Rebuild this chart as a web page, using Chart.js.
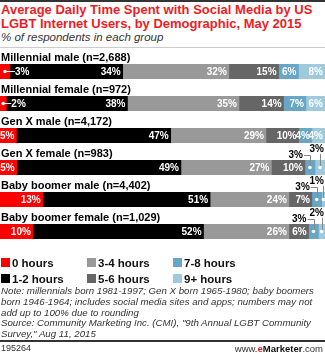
<!DOCTYPE html>
<html>
<head>
<meta charset="utf-8">
<script src="https://cdn.jsdelivr.net/npm/chart.js@4.4.0/dist/chart.umd.min.js"></script>
<style>
    body { margin: 0; width: 325px; height: 354px; overflow: hidden; background: #fff; position: relative;
           font-family: "Liberation Sans", Arial, sans-serif; }
    #topRule { position: absolute; left: 0; top: 0; width: 325px; height: 2px; background: #333; }
    #title { position: absolute; left: 1px; top: 3px; font-weight: bold; font-size: 13px; line-height: 14px; color: #ed1c24; white-space: nowrap; }
    #subtitle { position: absolute; left: 1px; top: 31px; font-style: italic; font-size: 11.5px; color: #333; }
    #sep { position: absolute; left: 0; top: 47px; width: 325px; height: 1px; background: #ccc; }
    .row { position: absolute; left: 0; width: 325px; height: 40px; }
    #legend { position: absolute; left: 0; top: 256px; width: 325px; }
    .item { position: absolute; font-weight: bold; font-size: 11.5px; line-height: 14px; color: #111; padding-left: 12px; white-space: nowrap; }
    .item span { position: absolute; left: 1px; top: 2px; width: 9px; height: 9px; }
    #note { position: absolute; left: 1px; top: 286px; font-style: italic; font-size: 9.7px; line-height: 10.8px; color: #333; white-space: nowrap; }
    #bottomRule { position: absolute; left: 0; top: 340px; width: 325px; height: 2px; background: #333; }
    #chartId { position: absolute; left: 1px; top: 343px; font-size: 9px; color: #333; }
    #site { position: absolute; right: 2px; top: 343px; font-size: 9.5px; color: #333; }
    #site b { color: #111; }
    #site .e { color: #ed1c24; }
</style>
</head>
<body>
<div id="topRule"></div>
<div id="title">Average Daily Time Spent with Social Media by US<br>LGBT Internet Users, by Demographic, May 2015</div>
<div id="subtitle">% of respondents in each group</div>
<div id="sep"></div>
<div id="rows"></div>
<div id="legend"></div>
<div id="note">Note: millennials born 1981-1997; Gen X born 1965-1980; baby boomers<br>born 1946-1964; includes social media sites and apps; numbers may not<br>add up to 100% due to rounding<br>Source: Community Marketing Inc. (CMI), "9th Annual LGBT Community<br>Survey," Aug 11, 2015</div>
<div id="bottomRule"></div>
<div id="chartId">195264</div>
<div id="site">www.<b class="e">e</b><b>Marketer</b>.com</div>

<script>
// groups and time buckets
const groups = [
    'Millennial male (n=2,688)',
    'Millennial female (n=972)',
    'Gen X male (n=4,172)',
    'Gen X female (n=983)',
    'Baby boomer male (n=4,402)',
    'Baby boomer female (n=1,029)'
];
const hourBuckets = ['0 hours', '1-2 hours', '3-4 hours', '5-6 hours', '7-8 hours', '9+ hours'];

// % of respondents per bucket, one entry per group
const zeroHours    = [3, 2, 5, 5, 13, 10];
const oneToTwo     = [34, 38, 47, 49, 51, 52];
const threeToFour  = [32, 35, 29, 27, 24, 26];
const fiveToSix    = [15, 14, 10, 10, 7, 6];
const sevenToEight = [6, 7, 4, 3, 3, 3];
const ninePlus     = [8, 6, 4, 3, 1, 2];

const bucketColors = ['#ff0000', '#000000', '#999999', '#666666', '#68a6c8', '#9fcadb'];
const series = [zeroHours, oneToTwo, threeToFour, fiveToSix, sevenToEight, ninePlus];

const LABEL_FONT = 'bold 11px "Liberation Sans", Arial, sans-serif';
const VALUE_FONT = 'bold 10px "Liberation Sans", Arial, sans-serif';

// draws the group name plus the value labels / callouts on each segment
const rowLabels = {
    id: 'rowLabels',
    afterDatasetsDraw(chart) {
        const ctx = chart.ctx;
        ctx.save();
        ctx.font = LABEL_FONT;
        ctx.fillStyle = '#000';
        ctx.textBaseline = 'middle';
        ctx.textAlign = 'left';
        ctx.fillText(chart.data.labels[0], 1, 16);

        ctx.font = VALUE_FONT;
        chart.data.datasets.forEach((ds, k) => {
            const bar = chart.getDatasetMeta(k).data[0];
            const v = ds.data[0];
            const text = v + '%';
            const left = bar.base, right = bar.x, cy = bar.y;
            const cx = (left + right) / 2;

            if (k === 0 && v <= 3) {
                // small red slice: dot + dash into the black segment
                ctx.strokeStyle = '#fff';
                ctx.lineWidth = 1;
                ctx.beginPath(); ctx.moveTo(cx, cy); ctx.lineTo(right + 5, cy); ctx.stroke();
                ctx.fillStyle = '#fff';
                ctx.beginPath(); ctx.arc(cx, cy, 1.8, 0, Math.PI * 2); ctx.fill();
                ctx.textAlign = 'left';
                ctx.fillText(text, right + 5, cy + 0.5);
            } else if (k >= 4 && v <= 3) {
                // thin slices get a callout above the bar
                ctx.strokeStyle = '#888';
                ctx.lineWidth = 1;
                ctx.fillStyle = '#000';
                if (k === 4) {
                    const ty = 17;
                    ctx.textAlign = 'right';
                    ctx.fillText(text, cx - 7, ty);
                    ctx.beginPath();
                    ctx.moveTo(cx - 6, ty + 0.5); ctx.lineTo(Math.round(cx) + 0.5, ty + 0.5);
                    ctx.lineTo(Math.round(cx) + 0.5, cy);
                    ctx.stroke();
                } else {
                    const ty = 11;
                    const w = ctx.measureText(text).width;
                    ctx.textAlign = 'center';
                    ctx.fillText(text, Math.min(cx, 324 - w / 2), ty);
                    ctx.beginPath();
                    ctx.moveTo(Math.round(cx) + 0.5, ty + 5); ctx.lineTo(Math.round(cx) + 0.5, cy);
                    ctx.stroke();
                }
                ctx.fillStyle = '#fff';
                ctx.beginPath(); ctx.arc(cx, cy, 1.8, 0, Math.PI * 2); ctx.fill();
            } else {
                ctx.fillStyle = '#fff';
                ctx.textAlign = 'right';
                ctx.fillText(text, right - 2, cy + 0.5);
            }
        });
        ctx.restore();
    }
};

// one stacked bar per group, each scaled to its own row total
const rowsDiv = document.getElementById('rows');
groups.forEach((group, i) => {
    const wrap = document.createElement('div');
    wrap.className = 'row';
    wrap.style.top = (42 + 32 * i) + 'px';
    const canvas = document.createElement('canvas');
    canvas.width = 325; canvas.height = 40;
    canvas.style.width = '325px'; canvas.style.height = '40px';
    wrap.appendChild(canvas);
    rowsDiv.appendChild(wrap);

    const total = series.reduce((sum, s) => sum + s[i], 0);

    new Chart(canvas, {
        type: 'bar',
        data: {
            labels: [group],
            datasets: hourBuckets.map((name, k) => ({
                label: name,
                data: [series[k][i]],
                backgroundColor: bucketColors[k],
                borderWidth: 0,
                barPercentage: 1,
                categoryPercentage: 1
            }))
        },
        options: {
            indexAxis: 'y',
            responsive: false,
            animation: false,
            devicePixelRatio: 1,
            layout: { padding: { top: 22, bottom: 3, left: 0, right: 0 } },
            scales: {
                x: { stacked: true, display: false, min: 0, max: total },
                y: { stacked: true, display: false }
            },
            plugins: { legend: { display: false }, tooltip: { enabled: false } }
        },
        plugins: [rowLabels]
    });
});

// legend, three columns
const legendDiv = document.getElementById('legend');
const legendPos = [[0, 0], [0, 16], [86, 0], [86, 16], [172, 0], [172, 16]];
hourBuckets.forEach((name, k) => {
    const item = document.createElement('div');
    item.className = 'item';
    item.style.left = legendPos[k][0] + 'px';
    item.style.top = legendPos[k][1] + 'px';
    item.innerHTML = '<span style="background:' + bucketColors[k] + '"></span>' + name;
    legendDiv.appendChild(item);
});
</script>
</body>
</html>
